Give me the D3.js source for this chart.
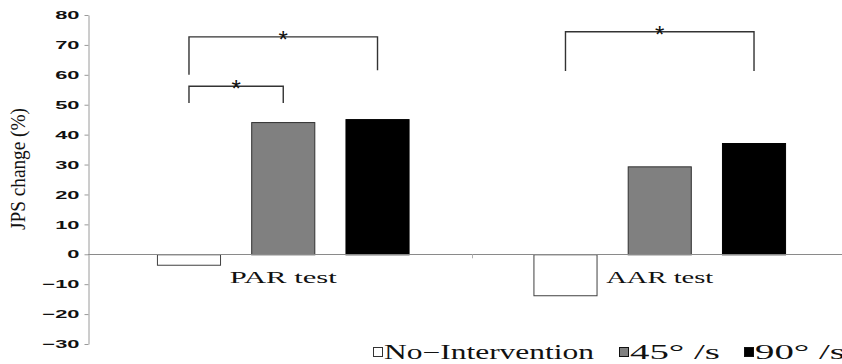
<!DOCTYPE html>
<html>
<head>
<meta charset="utf-8">
<script src="https://cdn.jsdelivr.net/npm/d3@7"></script>
<style>
  html, body { margin: 0; padding: 0; background: #fff; }
  svg { display: block; }
</style>
</head>
<body>
<svg id="chart" width="842" height="364"></svg>
<script>
// data
const categories = ['PAR test', 'AAR test'];
const seriesNames = ['No\u2212Intervention', '45\u00b0 /s', '90\u00b0 /s'];
const noIntervention = [-3.5, -13.7];
const deg45 = [44.2, 29.4];
const deg90 = [45.2, 37.2];
const yTicks = [-30, -20, -10, 0, 10, 20, 30, 40, 50, 60, 70, 80];
const yLabel = 'JPS change (%)';

// significance brackets: category, two series, bar height, leg ends
const brackets = [
  { cat: 'PAR test', a: 0, b: 2, top: 72.7, endA: 60.0, endB: 61.5 },
  { cat: 'PAR test', a: 0, b: 1, top: 56.2, endA: 50.6, endB: 50.6 },
  { cat: 'AAR test', a: 0, b: 2, top: 74.4, endA: 61.3, endB: 61.3 }
];

const seriesValues = [noIntervention, deg45, deg90];
const fills = ['#ffffff', '#808080', '#000000'];
const strokes = ['#404040', '#303030', '#000000'];

const svg = d3.select('#chart');
const axisX = 88;

const x = d3.scaleBand()
  .domain(categories)
  .range([95, 848])
  .paddingInner(0.329)
  .paddingOuter(0.1645);

const xs = d3.scaleBand()
  .domain(d3.range(seriesNames.length))
  .range([0, x.bandwidth()])
  .paddingInner(0.32)
  .paddingOuter(0);

const y = d3.scaleLinear()
  .domain([-30, 80])
  .range([344, 15]);

// bars
categories.forEach((cat, ci) => {
  seriesValues.forEach((vals, si) => {
    const v = vals[ci];
    svg.append('rect')
      .attr('x', x(cat) + xs(si) + 0.5)
      .attr('y', Math.min(y(v), y(0)) + 0.5)
      .attr('width', xs.bandwidth() - 1)
      .attr('height', Math.abs(y(v) - y(0)))
      .attr('fill', fills[si])
      .attr('stroke', strokes[si])
      .attr('stroke-width', 1);
  });
});

// zero line with category dividers
svg.append('line')
  .attr('x1', axisX).attr('x2', 842)
  .attr('y1', Math.round(y(0)) + 0.5).attr('y2', Math.round(y(0)) + 0.5)
  .attr('stroke', '#8a8a8a');

categories.slice(1).forEach(cat => {
  const bx = Math.round(x(cat) - x.step() * x.paddingInner() / 2) + 0.5;
  svg.append('line')
    .attr('x1', bx).attr('x2', bx)
    .attr('y1', y(0)).attr('y2', y(0) + 4)
    .attr('stroke', '#b0b0b0');
});

// y axis
const yAxis = svg.append('g')
  .attr('transform', `translate(${axisX + 0.5},0)`)
  .call(d3.axisLeft(y).tickValues(yTicks).tickSize(4).tickSizeOuter(0));
yAxis.select('.domain').attr('stroke', '#9a9a9a');
yAxis.selectAll('.tick line').attr('stroke', '#9a9a9a');
yAxis.selectAll('.tick text')
  .attr('x', 0)
  .attr('transform', 'translate(-9,0) scale(1.9,1)')
  .attr('fill', '#111')
  .style('font-family', '"Liberation Sans", Arial, sans-serif')
  .style('font-weight', 'bold')
  .style('font-size', '11.5px');

// y label
svg.append('text')
  .attr('transform', 'translate(25,169) rotate(-90)')
  .attr('text-anchor', 'middle')
  .attr('textLength', 122)
  .attr('lengthAdjust', 'spacingAndGlyphs')
  .style('font-family', '"Liberation Serif", serif')
  .style('font-size', '22px')
  .attr('fill', '#111')
  .text(yLabel);

// category labels
categories.forEach(cat => {
  svg.append('text')
    .attr('x', x(cat) + x.bandwidth() / 2)
    .attr('y', 283)
    .attr('text-anchor', 'middle')
    .attr('textLength', 107)
    .attr('lengthAdjust', 'spacingAndGlyphs')
    .style('font-family', '"Liberation Serif", serif')
    .style('font-size', '17px')
    .attr('fill', '#111')
    .text(cat);
});

// significance brackets
brackets.forEach(b => {
  const xa = x(b.cat) + xs(b.a) + xs.bandwidth() / 2;
  const xb = x(b.cat) + xs(b.b) + xs.bandwidth() / 2;
  const path = d3.path();
  path.moveTo(xa, y(b.endA));
  path.lineTo(xa, y(b.top));
  path.lineTo(xb, y(b.top));
  path.lineTo(xb, y(b.endB));
  svg.append('path')
    .attr('d', path.toString())
    .attr('fill', 'none')
    .attr('stroke', '#333')
    .attr('stroke-width', 1.4);
  svg.append('text')
    .attr('x', (xa + xb) / 2)
    .attr('y', y(b.top) + 11)
    .attr('text-anchor', 'middle')
    .style('font-family', '"Liberation Sans", Arial, sans-serif')
    .style('font-size', '24px')
    .attr('fill', '#111')
    .text('*');
});

// legend
const legendX = [373, 619, 744];
const legendTextW = [210, 90, 90];
const legend = svg.append('g').attr('transform', 'translate(0,359)');
seriesNames.forEach((name, si) => {
  legend.append('rect')
    .attr('x', legendX[si] + 0.5)
    .attr('y', -11.5)
    .attr('width', 9)
    .attr('height', 9)
    .attr('fill', fills[si])
    .attr('stroke', si === 0 ? '#333' : '#111');
  legend.append('text')
    .attr('x', legendX[si] + 11)
    .attr('y', 0)
    .attr('textLength', legendTextW[si])
    .attr('lengthAdjust', 'spacingAndGlyphs')
    .style('font-family', '"Liberation Serif", serif')
    .style('font-size', '20px')
    .attr('fill', '#111')
    .text(name);
});
</script>
</body>
</html>
